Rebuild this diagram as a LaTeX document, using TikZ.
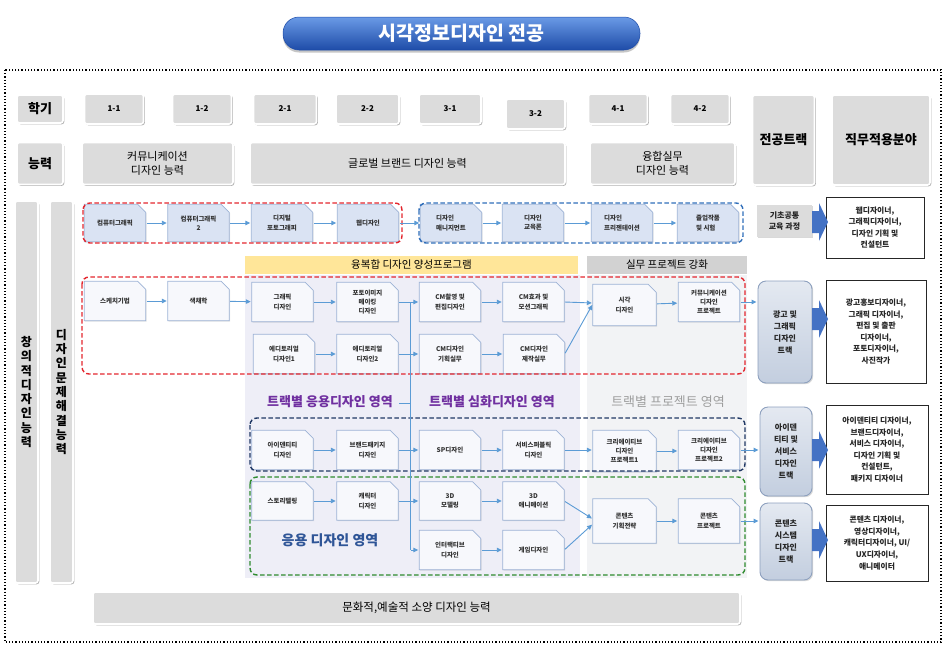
\documentclass[tikz,border=0pt]{standalone}
\usepackage{fontspec}
\setmainfont{Noto Sans CJK KR}
\usetikzlibrary{arrows.meta,calc,shadows}
\definecolor{arrowblue}{HTML}{5B9BD5}
\definecolor{bigblue}{HTML}{4472C4}
\definecolor{hdrgray}{HTML}{DCDCDC}
\definecolor{redd}{HTML}{E3262E}
\definecolor{blued}{HTML}{2F6EBA}
\definecolor{navyd}{HTML}{203864}
\definecolor{greend}{HTML}{2E8B2E}
\definecolor{lav}{HTML}{EEEEF7}
\definecolor{lightgr}{HTML}{F2F3F5}
\definecolor{yel}{HTML}{FFE699}
\definecolor{bandgr}{HTML}{D2D2D2}
\definecolor{cfill}{HTML}{F7F8FC}
\definecolor{cline}{HTML}{9DB3D6}
\definecolor{tfill}{HTML}{DAE3F3}
\definecolor{purp}{HTML}{7030A0}
\definecolor{ublue}{HTML}{2F5597}
\definecolor{trtop}{HTML}{E4E9F1}
\definecolor{trbot}{HTML}{C3CEDF}
\definecolor{trline}{HTML}{8DA0BE}
\definecolor{tittop}{HTML}{6A9AE6}
\definecolor{titbot}{HTML}{1E4CA8}
\pgfdeclarelayer{panel}
\pgfdeclarelayer{boxes}
\pgfsetlayers{panel,boxes,main}
\newcommand\myBigArrow[1]{\fill[bigblue] (812,#1-11) -- (819,#1-11) -- (819,#1-19) -- (828,#1) -- (819,#1+19) -- (819,#1+11) -- (812,#1+11) -- cycle;}
\tikzset{
  hdr/.style={fill=hdrgray, draw=white, line width=1.6pt, rounded corners=2.5pt, inner sep=0pt, align=center,
    drop shadow={shadow xshift=1.3pt, shadow yshift=-1.3pt, opacity=0.3, fill=black}},
  semest/.style={hdr, minimum width=59pt, minimum height=30pt, font=\bfseries\fontsize{8}{10}\selectfont},
  course/.style={minimum width=61pt, minimum height=39pt, inner sep=0pt, align=center, text=black!80,
    font=\bfseries\fontsize{6.5}{9.2}\selectfont},
  arr/.style={draw=arrowblue, line width=0.9pt, -{Triangle[length=5pt,width=4.5pt]}, shorten <=1pt, shorten >=1pt},
  ln/.style={draw=arrowblue, line width=0.9pt},
  cont/.style={line width=1.4pt, rounded corners=7pt, dash pattern=on 4.5pt off 2.5pt},
  track/.style={draw=trline, line width=0.9pt, rounded corners=8pt, top color=trtop, bottom color=trbot,
    align=center, inner sep=1pt, text=black!85, font=\bfseries\fontsize{8}{12}\selectfont,
    drop shadow={shadow xshift=1.2pt, shadow yshift=-1.2pt, opacity=0.3}},
  outbox/.style={draw=black!85, line width=1pt, fill=white, align=center, inner sep=1pt, text=black!85,
    font=\bfseries\fontsize{7.8}{11.6}\selectfont,
    drop shadow={shadow xshift=1pt, shadow yshift=-1pt, opacity=0.2}},
  lbl/.style={font=\bfseries\fontsize{13}{15}\selectfont, inner sep=0pt},
  title/.style={minimum width=357pt, minimum height=33pt, rounded corners=16pt, top color=tittop, bottom color=titbot,
    draw=titbot, line width=0.5pt, text=white, font=\bfseries\fontsize{19.5}{22}\selectfont,
    drop shadow={shadow xshift=0pt, shadow yshift=-2.5pt, opacity=0.45}}
}
\begin{document}
\begin{tikzpicture}[x=1pt,y=-1pt]
\useasboundingbox (0,0) rectangle (948,664);

% ---------- title and frame
\node[title] (title) at (461.5,33.5) {시각정보디자인 전공};
\draw[dotted, line width=1.2pt] (5,70) rectangle (941,642);

% ---------- header rows
\node[hdr, minimum width=46pt, minimum height=28pt, font=\bfseries\fontsize{13}{15}\selectfont] (hsem) at (40,109) {학기};
\node[semest] (s11) at (114,109) {1-1};
\node[semest] (s12) at (202,109) {1-2};
\node[semest, minimum width=63pt] (s21) at (285,109) {2-1};
\node[semest, minimum width=63pt] (s22) at (367.5,109) {2-2};
\node[semest, minimum width=62pt] (s31) at (450,109) {3-1};
\node[semest] (s32) at (535.5,114) {3-2};
\node[semest] (s41) at (618,109) {4-1};
\node[semest] (s42) at (700,109) {4-2};
\node[hdr, minimum width=62pt, minimum height=90pt, font=\bfseries\fontsize{13}{15}\selectfont] (htrack) at (783.5,140) {전공트랙};
\node[hdr, minimum width=98pt, minimum height=90pt, font=\bfseries\fontsize{13}{15}\selectfont] (hjob) at (881,140) {직무적용분야};
\node[hdr, minimum width=46pt, minimum height=42pt, font=\bfseries\fontsize{13}{15}\selectfont] (habil) at (40,163.5) {능력};
\node[hdr, minimum width=151pt, minimum height=42pt, font=\fontsize{11}{13.5}\selectfont] (ab1) at (157.5,163.5) {커뮤니케이션\\디자인 능력};
\node[hdr, minimum width=315pt, minimum height=42pt, font=\fontsize{11}{13.5}\selectfont] (ab2) at (407.5,163.5) {글로벌 브랜드 디자인 능력};
\node[hdr, minimum width=145pt, minimum height=42pt, font=\fontsize{11}{13.5}\selectfont] (ab3) at (662.5,163.5) {융합실무\\디자인 능력};

% ---------- left bars and bottom bar
\node[hdr, minimum width=23pt, minimum height=382pt, font=\bfseries\fontsize{12}{14.3}\selectfont] (bar1) at (26.5,392) {창\\의\\적\\디\\자\\인\\능\\력};
\node[hdr, minimum width=23pt, minimum height=382pt, font=\bfseries\fontsize{12}{14.3}\selectfont] (bar2) at (61.5,392) {디\\자\\인\\문\\제\\해\\결\\능\\력};
\node[hdr, minimum width=647pt, minimum height=32pt, font=\fontsize{11.5}{13}\selectfont] (cult) at (416.5,608) {문화적,예술적 소양 디자인 능력};

% ---------- panels
\begin{pgfonlayer}{panel}
\fill[lav] (245,275) rectangle (580,578);
\fill[lightgr] (587,275) rectangle (747,578);
\node[fill=yel, minimum width=333pt, minimum height=18pt, inner sep=0pt, font=\fontsize{10.5}{12}\selectfont] (band1) at (411.5,265) {융복합 디자인 양성프로그램};
\node[fill=bandgr, minimum width=160pt, minimum height=18pt, inner sep=0pt, font=\fontsize{10.5}{12}\selectfont] (band2) at (667,265) {실무 프로젝트 강화};
\end{pgfonlayer}

% ---------- course nodes
\node[course, minimum height=37pt] (t1) at (115,223) {컴퓨터그래픽};
\node[course, minimum height=37pt] (t2) at (198.5,223) {컴퓨터그래픽\\2};
\node[course, minimum height=37pt] (t3) at (282,223) {디지털\\포토그래피};
\node[course, minimum height=37pt] (t4) at (368,223) {웹디자인};
\node[course, minimum height=37pt, align=left] (t5) at (451,223) {디자인\\매니지먼트};
\node[course, minimum height=37pt, align=left] (t6) at (533,223) {디자인\\교육론};
\node[course, minimum height=37pt, align=left] (t7) at (622,223) {디자인\\프리젠테이션};
\node[course, minimum height=37pt, align=left] (t8) at (708,223) {졸업작품\\및 시험};

\node[course] (r1) at (115,301) {스케치기법};
\node[course] (r2) at (198.5,301) {색채학};
\node[course] (r3) at (282.5,302) {그래픽\\디자인};
\node[course] (r4) at (367.5,302) {포토이미지\\메이킹\\디자인};
\node[course] (r5) at (450,302) {CM촬영 및\\편집디자인};
\node[course] (r6) at (533.5,302) {CM효과 및\\모션그래픽};
\node[course, minimum width=63pt, minimum height=41pt] (r7) at (624.5,305) {시각\\디자인};
\node[course] (r8) at (709,302) {커뮤니케이션\\디자인\\프로젝트};
\node[course] (e1) at (284,354) {에디토리얼\\디자인1};
\node[course] (e2) at (367.5,354) {에디토리얼\\디자인2};
\node[course] (e3) at (450,354) {CM디자인\\기획실무};
\node[course] (e4) at (534,354) {CM디자인\\제작실무};

\node[course] (n1) at (282.5,450) {아이덴티티\\디자인};
\node[course] (n2) at (367.5,450) {브랜드패키지\\디자인};
\node[course] (n3) at (450,450) {SP디자인};
\node[course] (n4) at (533.5,450) {서비스퍼블릭\\디자인};
\node[course, minimum width=63pt, minimum height=41pt] (n5) at (624.5,451) {크리에이티브\\디자인\\프로젝트1};
\node[course] (n6) at (709,450) {크리에이티브\\디자인\\프로젝트2};

\node[course, minimum height=38pt] (g1) at (282.5,501) {스토리텔링};
\node[course, minimum height=38pt] (g2) at (367.5,501) {캐릭터\\디자인};
\node[course, minimum height=38pt] (g3) at (450,501) {3D\\모델링};
\node[course, minimum height=38pt] (g4) at (533.5,501) {3D\\애니메이션};
\node[course] (g5) at (450,550) {인터랙티브\\디자인};
\node[course] (g6) at (533.5,550) {게임디자인};
\node[course, minimum width=63pt, minimum height=44pt] (g7) at (624.5,521) {콘텐츠\\기획전략};
\node[course, minimum height=44pt] (g8) at (709,521) {콘텐츠\\프로젝트};

% snipped-corner outlines of the courses
\begin{pgfonlayer}{boxes}
\foreach \n in {t1,t2,t3,t4,t5,t6,t7,t8}{
  \filldraw[fill=tfill, draw=cline, line width=0.7pt, drop shadow={shadow xshift=0.8pt, shadow yshift=-0.8pt, opacity=0.2}]
    (\n.south west) -- (\n.north west) -- ([xshift=-8pt]\n.north east) -- ([yshift=-8pt]\n.north east) -- (\n.south east) -- cycle;
}
\foreach \n in {r1,r2,r3,r4,r5,r6,r7,r8,e1,e2,e3,e4,n1,n2,n3,n4,n5,n6,g1,g2,g3,g4,g5,g6,g7,g8}{
  \filldraw[fill=cfill, draw=cline, line width=0.7pt, drop shadow={shadow xshift=0.8pt, shadow yshift=-0.8pt, opacity=0.2}]
    (\n.south west) -- (\n.north west) -- ([xshift=-8pt]\n.north east) -- ([yshift=-8pt]\n.north east) -- (\n.south east) -- cycle;
}
\end{pgfonlayer}

% ---------- dashed groups
\draw[cont, redd] (83,203) rectangle (402,243);
\draw[cont, blued] (419,203) rectangle (743,243);
\draw[cont, redd] (82,277) rectangle (745,374);
\draw[cont, navyd] (250,418) rectangle (745,471);
\draw[cont, greend] (250,477) rectangle (745,575);

% ---------- area labels
\node[lbl, text=purp] (lab1) at (330,402) {트랙별 응용디자인 영역};
\node[lbl, text=purp] (lab2) at (492,402) {트랙별 심화디자인 영역};
\node[lbl, text=black!38, font=\fontsize{13}{15}\selectfont] (lab3) at (668,402) {트랙별 프로젝트 영역};
\node[lbl, text=ublue, font=\bfseries\fontsize{14}{16}\selectfont] (lab4) at (330,540) {응용 디자인 영역};

% ---------- tracks and job fields
\node[fill=hdrgray, minimum width=55pt, minimum height=32pt, inner sep=0pt, align=center, text=black!85,
  font=\bfseries\fontsize{8}{11.5}\selectfont, drop shadow={shadow xshift=1.2pt, shadow yshift=-1.2pt, opacity=0.3}] (kb) at (784.5,221) {기초공통\\교육 과정};
\node[track, minimum width=54pt, minimum height=102pt] (tr1) at (785,332) {광고 및\\그래픽\\디자인\\트랙};
\node[track, minimum width=52pt, minimum height=89pt] (tr2) at (786,451.5) {아이덴\\티티 및\\서비스\\디자인\\트랙};
\node[track, minimum width=52pt, minimum height=77pt] (tr3) at (786,541.5) {콘텐츠\\시스템\\디자인\\트랙};

\node[outbox, minimum width=98pt, minimum height=61pt] (o1) at (875,227.5) {웹디자이너,\\그래픽디자이너,\\디자인 기획 및\\컨설턴트};
\node[outbox, minimum width=100pt, minimum height=103pt] (o2) at (876,331.5) {광고홍보디자이너,\\그래픽 디자이너,\\편집 및 출판\\디자이너,\\포토디자이너,\\사진작가};
\node[outbox, minimum width=102pt, minimum height=89pt] (o3) at (877,449.5) {아이덴티티 디자이너,\\브랜드디자이너,\\서비스 디자이너,\\디자인 기획 및\\컨설턴트,\\패키지 디자이너};
\node[outbox, minimum width=102pt, minimum height=76pt] (o4) at (877,543) {콘텐츠 디자이너,\\영상디자이너,\\캐릭터디자이너, UI/\\UX디자이너,\\애니메이터};

\myBigArrow{222}
\myBigArrow{319}
\myBigArrow{450}
\myBigArrow{540}

% ---------- connectors
\draw[arr] (t1) -- (t2);
\draw[arr] (t2) -- (t3);
\draw[arr] (t3) -- (t4);
\draw[arr] (t4) -- (t5);
\draw[arr] (t5) -- (t6);
\draw[arr] (t6) -- (t7);
\draw[arr] (t7) -- (t8);

\draw[arr] (r1) -- (r2);
\draw[arr] (r2) -- (r3);
\draw[arr] (r3) -- (r4);
\draw[arr] (r4.east) -- (r5.west);
\draw[arr] (r5) -- (r6);
\draw[arr] (r6.east) -- ($(r7.west)+(0,-2)$);
\draw[arr] (e4.east) -- ($(r7.west)+(0,-1)$);
\draw[arr] (r7) -- (r8);
\draw[arr] (r8.east) -- (r8.east -| tr1.west);

\draw[arr] (e1) -- (e2);
\draw[arr] (e2.east) -- (e3.west);
\draw[arr] (e3) -- (e4);

\draw[arr] (n1) -- (n2);
\draw[arr] (n2.east) -- (n3.west);
\draw[arr] (n3) -- (n4);
\draw[arr] (n4.east) -- (n4.east -| n5.west);
\draw[arr] (n5.east) -- (n5.east -| n6.west);
\draw[arr] (n6.east) -- (n6.east -| tr2.west);

\draw[arr] (g1) -- (g2);
\draw[arr] (g2.east) -- (g3.west);
\draw[arr] (g3) -- (g4);
\draw[arr] (g5) -- (g6);
\draw[arr] (g4.east) -- ($(g7.west)+(0,-2)$);
\draw[arr] (g6.east) -- ($(g7.west)+(0,3)$);
\draw[arr] (g7) -- (g8);
\draw[arr] (g8.east) -- (g8.east -| tr3.west);

% vertical distribution line
\coordinate (vtop) at (410,302);
\coordinate (vbot) at (410,550);
\coordinate (tick) at (399,403);
\draw[ln] (vtop) -- (vbot);
\draw[ln] (tick) -- (tick -| vtop);
\draw[arr] (vbot) -- (g5.west);
\end{tikzpicture}
\end{document}
